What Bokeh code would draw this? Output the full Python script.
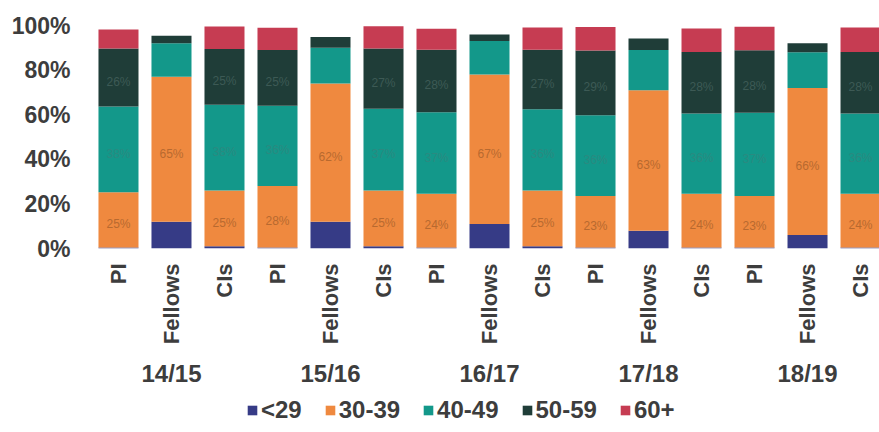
import math
from bokeh.plotting import figure
from bokeh.layouts import column
from bokeh.models import (Range1d, LinearAxis, FixedTicker, PrintfTickFormatter,
                          ColumnDataSource, Legend, LegendItem)
from bokeh.core.properties import value
from bokeh.embed import file_html
from bokeh.resources import INLINE

years = ["14/15", "15/16", "16/17", "17/18", "18/19"]
roles = ["PI", "Fellows", "CIs"]
age_groups = ["<29", "30-39", "40-49", "50-59", "60+"]

u29 = [0.5, 12, 1, 0.5, 12, 1, 0.5, 11, 1, 0.5, 8, 0.5, 0.5, 6, 0.5]
a30 = [24.7, 65, 25, 27.5, 62, 25, 24, 67, 25, 23, 63, 24, 23, 66, 24]
a40 = [38.5, 15, 38.5, 36, 16, 36.7, 36.6, 15, 36.5, 36.3, 18, 36, 37.4, 16, 36]
a50 = [26, 3.4, 25, 25, 4.8, 27, 28, 3, 26.6, 29, 5.2, 27.6, 28, 4, 27.6]
a60 = [8.5, 0, 10, 10, 0, 10, 9.4, 0, 10, 10.5, 0, 10.5, 10.5, 0, 11]

colors = ["#363b86", "#ef893f", "#13988a", "#1f3d38", "#c63c52"]
label_colors = ["#363b86", "#b8692f", "#2a8a80", "#3d5a55", "#c63c52"]

FONT = "Liberation Sans"
TXT = "#3d3d3d"

n = len(u29)
xs = list(range(n))
series = [u29, a30, a40, a50, a60]
data = {"x": xs}
for k, s in zip(age_groups, series):
    data[k] = s
src = ColumnDataSource(data)

p = figure(width=879, height=395, output_backend="svg", toolbar_location=None,
           x_range=Range1d(-0.528, 14.358), y_range=Range1d(0, 100),
           x_axis_location=None, y_axis_location=None,
           min_border_left=90, min_border_right=0, min_border_top=25,
           min_border_bottom=147)
p.outline_line_color = None
p.xgrid.visible = False
p.ygrid.visible = False

p.vbar_stack(age_groups, x="x", width=0.755, source=src,
             color=colors, line_color=None)

# segment labels
lx, ly, lt, lc = [], [], [], []
for i in range(n):
    base = 0
    for j, s in enumerate(series):
        v = s[i]
        if j in (1, 2, 3) and v >= 20:
            lx.append(i)
            ly.append(base + v / 2 - 2)
            lt.append(f"{round(v)}%")
            lc.append(label_colors[j])
        base += v
p.text(x=lx, y=ly, text=lt, text_color=lc, text_align="center",
       text_baseline="middle", text_font_size="12px", text_font=value(FONT))


def style_axis(ax, size, standoff):
    ax.axis_line_color = None
    ax.major_tick_line_color = None
    ax.minor_tick_line_color = None
    ax.major_tick_out = 0
    ax.major_tick_in = 0
    ax.minor_tick_out = 0
    ax.major_label_standoff = standoff
    ax.major_label_text_font = FONT
    ax.major_label_text_font_style = "bold"
    ax.major_label_text_font_size = size
    ax.major_label_text_color = TXT


yax = LinearAxis(ticker=FixedTicker(ticks=[0, 20, 40, 60, 80, 100]),
                 formatter=PrintfTickFormatter(format="%d%%"))
style_axis(yax, "23px", 20)
p.add_layout(yax, "left")

role_ax = LinearAxis(ticker=FixedTicker(ticks=xs),
                     major_label_overrides={i: roles[i % 3] for i in xs})
style_axis(role_ax, "22px", 15)
role_ax.major_label_orientation = math.pi / 2
p.add_layout(role_ax, "below")

year_ticks = [1, 4, 7, 10, 13]
year_ax = LinearAxis(ticker=FixedTicker(ticks=year_ticks),
                     major_label_overrides={t: y for t, y in zip(year_ticks, years)})
style_axis(year_ax, "24px", 12)
p.add_layout(year_ax, "below")

# legend strip
pl = figure(width=879, height=37, output_backend="svg", toolbar_location=None,
            x_range=Range1d(0, 1), y_range=Range1d(0, 1),
            x_axis_location=None, y_axis_location=None,
            min_border=0, min_border_left=0, min_border_right=0,
            min_border_top=0, min_border_bottom=0)
pl.outline_line_color = None
pl.xgrid.visible = False
pl.ygrid.visible = False
items = []
for g, c in zip(age_groups, colors):
    # legend swatch source: one bar placed far outside the visible range
    r = pl.vbar(x=[-100], top=[-100], bottom=[-101], width=0.1, color=c, line_color=None)
    items.append(LegendItem(label=g, renderers=[r]))

legend = Legend(items=items, orientation="horizontal", location=(156, 8))
legend.border_line_color = None
legend.background_fill_alpha = 0
legend.padding = 0
legend.margin = 0
legend.glyph_width = 12
legend.glyph_height = 12
legend.label_standoff = 3
legend.spacing = 22
legend.label_height = 22
legend.label_text_font = FONT
legend.label_text_font_style = "bold"
legend.label_text_font_size = "24px"
legend.label_text_color = TXT
legend.label_text_baseline = "middle"
pl.add_layout(legend, "center")

layout = column(p, pl, spacing=0)
open("out.html", "w").write(file_html(layout, INLINE))
